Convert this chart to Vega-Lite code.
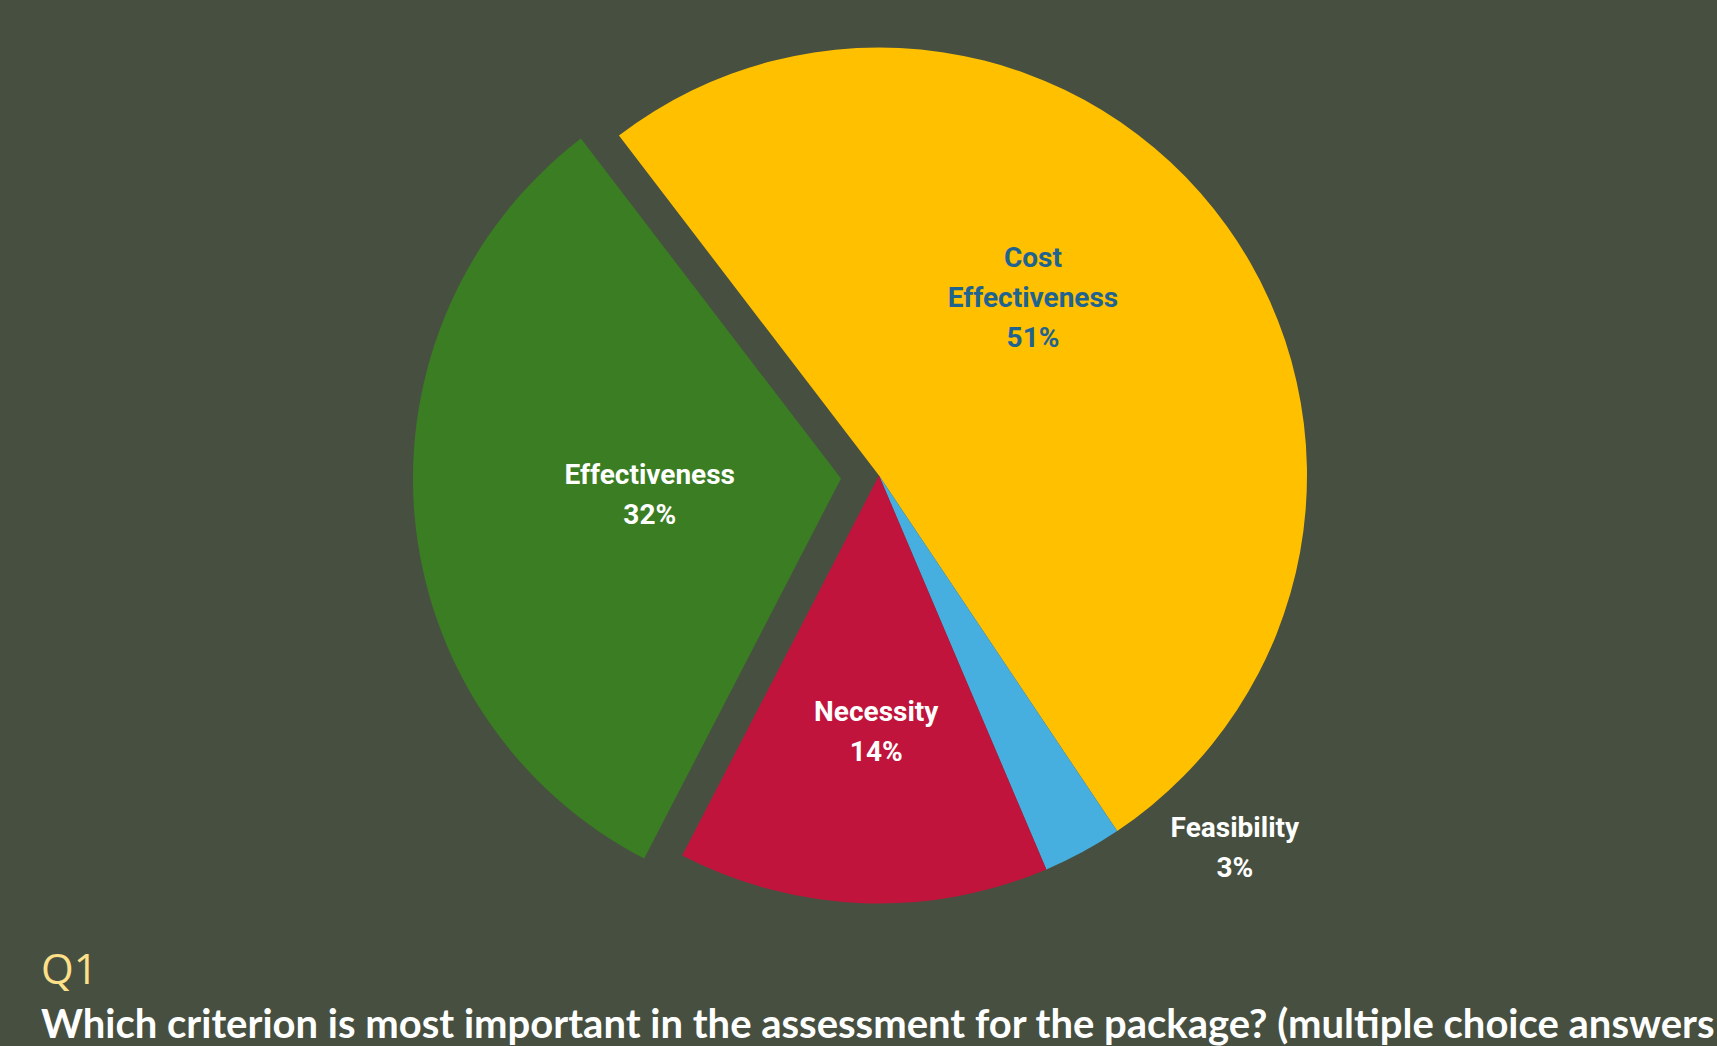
{
  "$schema": "https://vega.github.io/schema/vega-lite/v6.json",
  "width": 1717,
  "height": 1046,
  "autosize": {"type": "fit", "contains": "padding"},
  "padding": {"left": 41, "top": 0, "right": 0, "bottom": 0},
  "background": "#475040",
  "config": {"view": {"stroke": null}},
  "title": {
    "text": "Q1",
    "subtitle": "Which criterion is most important in the assessment for the package? (multiple choice answers",
    "orient": "bottom",
    "anchor": "start",
    "frame": "group",
    "font": "Open Sans",
    "fontSize": 42,
    "fontWeight": "normal",
    "color": "#FFE08A",
    "subtitleFont": "Lato",
    "subtitleFontSize": 40,
    "subtitleFontWeight": "bold",
    "subtitleColor": "#FFFFFF",
    "subtitlePadding": 13,
    "offset": 0
  },
  "data": {
    "values": [
      {"category": "Cost Effectiveness", "label": "Cost\nEffectiveness\n51%", "value": 51, "order": 1},
      {"category": "Feasibility", "label": "Feasibility\n3%", "value": 3, "order": 2},
      {"category": "Necessity", "label": "Necessity\n14%", "value": 14, "order": 3},
      {"category": "Effectiveness", "label": "Effectiveness\n32%", "value": 32, "order": 4}
    ]
  },
  "encoding": {
    "theta": {"field": "value", "type": "quantitative", "stack": true, "scale": {"range": [-0.653, 5.630]}},
    "order": {"field": "order", "type": "quantitative", "sort": "ascending"},
    "color": {
      "field": "category",
      "type": "nominal",
      "legend": null,
      "scale": {
        "domain": ["Cost Effectiveness", "Feasibility", "Necessity", "Effectiveness"],
        "range": ["#FFC000", "#47AFDF", "#C0143C", "#3A7D22"]
      }
    }
  },
  "layer": [
    {
      "mark": {"type": "arc", "outerRadius": 428, "strokeWidth": 0},
      "encoding": {
        "opacity": {"condition": {"test": "datum.category === 'Effectiveness'", "value": 0}, "value": 1}
      }
    },
    {
      "mark": {"type": "arc", "outerRadius": 428, "strokeWidth": 0, "xOffset": -38, "yOffset": 3},
      "encoding": {
        "opacity": {"condition": {"test": "datum.category === 'Effectiveness'", "value": 1}, "value": 0}
      }
    },
    {
      "mark": {"type": "text", "radius": 230, "dx": -33, "dy": -83, "lineBreak": "\n", "lineHeight": 40, "font": "Roboto", "fontSize": 28, "fontWeight": "bold", "align": "center", "baseline": "middle"},
      "encoding": {
        "text": {"field": "label"},
        "color": {"value": "#1F6391"},
        "opacity": {"condition": {"test": "datum.category === 'Cost Effectiveness'", "value": 1}, "value": 0}
      }
    },
    {
      "mark": {"type": "text", "radius": 420, "dx": 156, "dy": -16, "lineBreak": "\n", "lineHeight": 40, "font": "Roboto", "fontSize": 28, "fontWeight": "bold", "align": "center", "baseline": "middle"},
      "encoding": {
        "text": {"field": "label"},
        "color": {"value": "#FFFFFF"},
        "opacity": {"condition": {"test": "datum.category === 'Feasibility'", "value": 1}, "value": 0}
      }
    },
    {
      "mark": {"type": "text", "radius": 256, "dx": 7, "dy": -18, "lineBreak": "\n", "lineHeight": 40, "font": "Roboto", "fontSize": 28, "fontWeight": "bold", "align": "center", "baseline": "middle"},
      "encoding": {
        "text": {"field": "label"},
        "color": {"value": "#FFFFFF"},
        "opacity": {"condition": {"test": "datum.category === 'Necessity'", "value": 1}, "value": 0}
      }
    },
    {
      "mark": {"type": "text", "radius": 192, "dx": -38, "dy": -16, "lineBreak": "\n", "lineHeight": 40, "font": "Roboto", "fontSize": 28, "fontWeight": "bold", "align": "center", "baseline": "middle"},
      "encoding": {
        "text": {"field": "label"},
        "color": {"value": "#FFFFFF"},
        "opacity": {"condition": {"test": "datum.category === 'Effectiveness'", "value": 1}, "value": 0}
      }
    }
  ]
}
